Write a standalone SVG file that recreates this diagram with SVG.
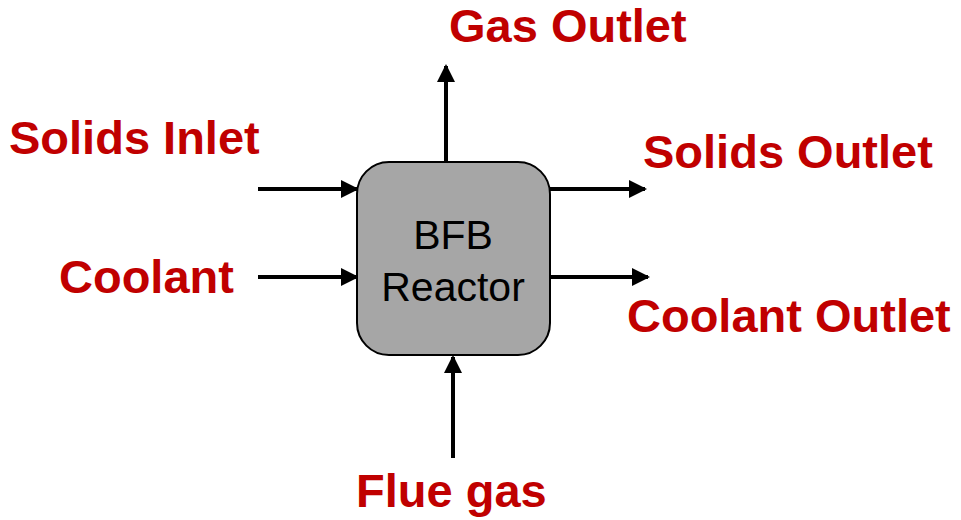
<svg xmlns="http://www.w3.org/2000/svg" width="961" height="520" viewBox="0 0 961 520">
<style>
.lbl{font-family:"Liberation Sans",Arial,sans-serif;font-weight:bold;font-size:47px;fill:#c00000}
.in{font-family:"Liberation Sans",Arial,sans-serif;font-size:41px;fill:#000;text-anchor:middle}
.c{stroke:#000;stroke-width:4;fill:none}
</style>
<defs>
<marker id="ah" markerWidth="4.5" markerHeight="4.5" refX="4" refY="2.25" orient="auto" markerUnits="strokeWidth">
<path d="M0,0 L4.5,2.25 L0,4.5 Z" fill="#000"/>
</marker>
</defs>
<rect width="961" height="520" fill="#fff"/>
<g id="connectors">
<line class="c" x1="446" y1="162" x2="446" y2="66" marker-end="url(#ah)"/>
<line class="c" x1="258" y1="189" x2="357" y2="189" marker-end="url(#ah)"/>
<line class="c" x1="258" y1="277" x2="357" y2="277" marker-end="url(#ah)"/>
<line class="c" x1="545" y1="189" x2="645" y2="189" marker-end="url(#ah)"/>
<line class="c" x1="550" y1="277" x2="648" y2="277" marker-end="url(#ah)"/>
<line class="c" x1="453" y1="458" x2="453" y2="357" marker-end="url(#ah)"/>
</g>
<g id="reactor">
<rect x="357" y="162" width="193" height="193" rx="32" ry="32" fill="#a6a6a6" stroke="#000" stroke-width="2"/>
<text class="in" x="453" y="249">BFB</text>
<text class="in" x="453" y="301">Reactor</text>
</g>
<g id="gas-outlet"><text class="lbl" x="449" y="42">Gas Outlet</text></g>
<g id="solids-inlet"><text class="lbl" x="9" y="154">Solids Inlet</text></g>
<g id="coolant"><text class="lbl" x="59" y="293">Coolant</text></g>
<g id="solids-outlet"><text class="lbl" x="643" y="168">Solids Outlet</text></g>
<g id="coolant-outlet"><text class="lbl" x="627" y="332">Coolant Outlet</text></g>
<g id="flue-gas"><text class="lbl" x="356" y="507">Flue gas</text></g>
</svg>
